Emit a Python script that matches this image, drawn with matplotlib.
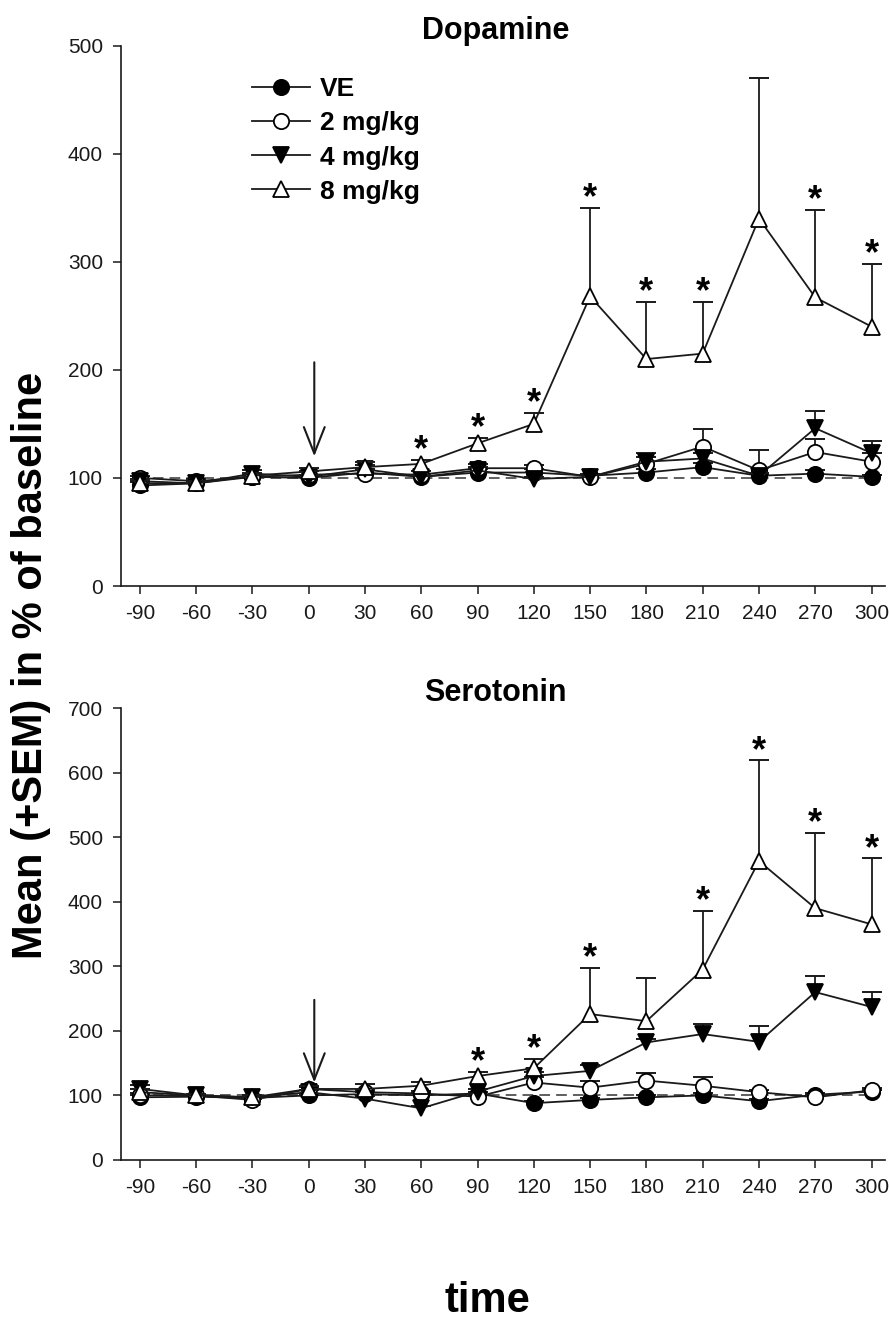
import numpy as np
import matplotlib
matplotlib.use("Agg")
import matplotlib.pyplot as plt

plt.rcParams['font.family'] = ['Liberation Sans', 'DejaVu Sans']
plt.rcParams['axes.unicode_minus'] = False

# Zeitpunkte (min)
time = [-90, -60, -30, 0, 30, 60, 90, 120, 150, 180, 210, 240, 270, 300]
groups = ["VE", "2 mg/kg", "4 mg/kg", "8 mg/kg"]

# Dopamin: Mittelwerte und SEM (nur nach oben)
da_ve = [93, 95, 101, 100, 105, 101, 105, 105, 102, 105, 110, 102, 104, 101]
da_ve_sem = [3, 2, 2, 2, 3, 2, 3, 3, 2, 3, 4, 2, 3, 2]
da_2 = [100, 97, 101, 103, 104, 103, 109, 109, 101, 113, 129, 107, 124, 115]
da_2_sem = [2, 2, 2, 3, 3, 3, 4, 3, 2, 6, 16, 19, 12, 8]
da_4 = [97, 95, 104, 101, 108, 101, 107, 99, 101, 115, 118, 102, 146, 123]
da_4_sem = [2, 2, 3, 2, 4, 2, 3, 2, 2, 8, 5, 3, 16, 11]
da_8 = [95, 95, 102, 106, 110, 113, 132, 150, 268, 210, 215, 340, 267, 240]
da_8_sem = [2, 2, 3, 3, 5, 4, 5, 10, 82, 53, 48, 130, 81, 58]
da_stars = [60, 90, 120, 150, 180, 210, 270, 300]

# Serotonin
st_ve = [97, 98, 96, 100, 102, 100, 103, 88, 93, 97, 100, 91, 101, 106]
st_ve_sem = [4, 2, 2, 2, 3, 3, 3, 3, 3, 3, 3, 3, 3, 3]
st_2 = [100, 100, 93, 110, 105, 103, 98, 120, 112, 123, 115, 105, 97, 108]
st_2_sem = [3, 2, 2, 3, 4, 4, 3, 8, 10, 11, 13, 4, 3, 4]
st_4 = [110, 100, 97, 105, 95, 80, 106, 130, 138, 182, 195, 183, 260, 237]
st_4_sem = [6, 2, 4, 3, 4, 3, 4, 6, 9, 5, 15, 24, 25, 23]
st_8 = [105, 100, 97, 110, 110, 115, 130, 142, 226, 215, 295, 463, 390, 365]
st_8_sem = [5, 2, 3, 4, 8, 6, 7, 15, 72, 67, 91, 156, 116, 102]
st_stars = [90, 120, 150, 210, 240, 270, 300]

styles = [
    dict(marker='o', mfc='black', mec='black'),
    dict(marker='o', mfc='white', mec='black'),
    dict(marker='v', mfc='black', mec='black'),
    dict(marker='^', mfc='white', mec='black'),
]
ink = '#1a1a1a'


def panel(ax, series, title, ymax, stars, arrow_top):
    ax.axhline(100, xmin=0.02, xmax=0.99, color='#333333', lw=1.1, ls=(0, (7, 4)), zorder=1)
    for i in range(4):
        m, e = np.array(series[i][0]), np.array(series[i][1])
        # SEM nur nach oben, Kappe nur oben
        ax.vlines(time, m, m + e, color=ink, lw=1.3, zorder=2 + i)
        ax.plot(time, m + e, ls='none', marker='_', ms=15, mew=1.4, color=ink, zorder=2 + i)
        ax.plot(time, m, color=ink, lw=1.3, ms=11, mew=1.3, label=groups[i],
                zorder=3 + i, **styles[i])
    m8, e8 = series[3]
    for t in stars:
        k = time.index(t)
        ax.annotate('*', (t, m8[k] + e8[k]), xytext=(0, -6), textcoords='offset points',
                    ha='center', va='bottom', fontsize=26, fontweight='bold')
    ax.annotate('', xy=(3, 120), xytext=(3, arrow_top),
                arrowprops=dict(arrowstyle='->,head_length=1.9,head_width=0.75',
                                lw=1.5, color=ink, shrinkA=0, shrinkB=0))
    ax.set_xlim(-100, 307)
    ax.set_ylim(0, ymax)
    ax.set_xticks(time)
    ax.set_yticks(np.arange(0, ymax + 1, 100))
    ax.tick_params(labelsize=15, length=6, width=1.1, direction='out', pad=7, colors=ink)
    for s in ['top', 'right']:
        ax.spines[s].set_visible(False)
    for s in ['left', 'bottom']:
        ax.spines[s].set_linewidth(1.2)
        ax.spines[s].set_color(ink)
    ax.set_title(title, fontsize=22, fontweight='bold', pad=4, x=0.49)


fig = plt.figure(figsize=(8.9, 13.41), dpi=100)
ax1 = fig.add_axes([0.136, 0.563, 0.858, 0.403])
ax2 = fig.add_axes([0.136, 0.135, 0.858, 0.337])

panel(ax1, [(da_ve, da_ve_sem), (da_2, da_2_sem), (da_4, da_4_sem), (da_8, da_8_sem)],
      'Dopamine', 500, da_stars, 207)
panel(ax2, [(st_ve, st_ve_sem), (st_2, st_2_sem), (st_4, st_4_sem), (st_8, st_8_sem)],
      'Serotonin', 700, st_stars, 248)

h, l = ax1.get_legend_handles_labels()
leg = ax1.legend(h[:4], l[:4], loc='upper left', bbox_to_anchor=(0.14, 0.985), frameon=False,
                 prop=dict(size=19, weight='bold'), handlelength=2.2, labelspacing=0.38,
                 handletextpad=0.4)

fig.text(0.035, 0.504, 'Mean (+SEM) in % of baseline', rotation=90, ha='center', va='center',
         fontsize=30, fontweight='bold')
fig.text(0.548, 0.03, 'time', ha='center', va='center', fontsize=30, fontweight='bold')

fig.savefig('out.png', dpi=100)
